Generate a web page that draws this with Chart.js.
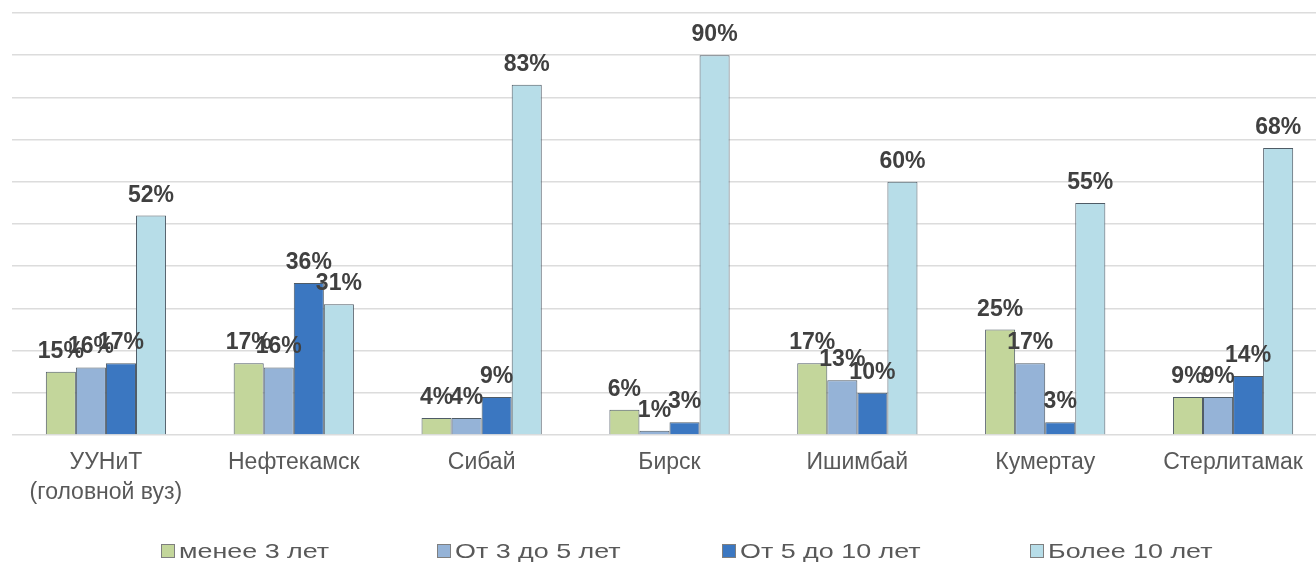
<!DOCTYPE html>
<html lang="ru">
<head>
<meta charset="utf-8">
<title>Стаж работы</title>
<script src="https://cdn.jsdelivr.net/npm/chart.js@4/dist/chart.umd.min.js"></script>
<style>
  html, body { margin: 0; padding: 0; background: #fff; overflow: hidden; }
  #chartCanvas { display: block; }
</style>
</head>
<body>
<canvas id="chartCanvas" width="1330" height="564"></canvas>
<script>
// Категории (подразделения) и доли сотрудников по стажу, %
const categories = [["УУНиТ", "(головной вуз)"], "Нефтекамск", "Сибай", "Бирск", "Ишимбай", "Кумертау", "Стерлитамак"];
const seriesNames = ["менее 3 лет", "От 3 до 5 лет", "От 5 до 10 лет", "Более 10 лет"];
const lessThan3 = [15, 17, 4, 6, 17, 25, 9];
const from3to5 = [16, 16, 4, 1, 13, 17, 9];
const from5to10 = [17, 36, 9, 3, 10, 3, 14];
const over10 = [52, 31, 83, 90, 60, 55, 68];
const yTicks = { min: 0, max: 100, step: 10 };

const colors = ["#c3d69b", "#95b3d7", "#3b77c1", "#b7dde8"];
const seriesData = [lessThan3, from3to5, from5to10, over10];

// подписи значений над столбцами
const valueLabels = {
  id: "valueLabels",
  afterDatasetsDraw(chart) {
    const ctx = chart.ctx;
    ctx.save();
    ctx.font = "bold 23px 'Liberation Sans', Arial, sans-serif";
    ctx.fillStyle = "#404040";
    ctx.textAlign = "center";
    ctx.textBaseline = "alphabetic";
    chart.data.datasets.forEach((ds, i) => {
      chart.getDatasetMeta(i).data.forEach((bar, j) => {
        ctx.fillText(ds.data[j] + "%", bar.x, bar.y - 14);
      });
    });
    ctx.restore();
  }
};

// легенда внизу, текст немного растянут по ширине
const slotLegend = {
  id: "slotLegend",
  afterDraw(chart, args, opts) {
    const ctx = chart.ctx;
    ctx.save();
    ctx.font = "21px 'Liberation Sans', Arial, sans-serif";
    ctx.textBaseline = "middle";
    ctx.textAlign = "left";
    chart.data.datasets.forEach((ds, i) => {
      const x = opts.starts[i];
      const y = opts.y;
      ctx.fillStyle = ds.backgroundColor;
      ctx.fillRect(x, y - 7, 14, 14);
      ctx.strokeStyle = "#7f7f7f";
      ctx.lineWidth = 1;
      ctx.strokeRect(x + 0.5, y - 6.5, 13, 13);
      ctx.save();
      ctx.translate(x + 18, y + 1);
      ctx.scale(opts.stretch, 1);
      ctx.fillStyle = "#595959";
      ctx.fillText(ds.label, 0, 0);
      ctx.restore();
    });
    ctx.restore();
  }
};

const chartInstance = new Chart(document.getElementById("chartCanvas"), {
  type: "bar",
  data: {
    labels: categories,
    datasets: seriesNames.map((name, i) => ({
      label: name,
      data: seriesData[i],
      backgroundColor: colors[i],
      borderColor: "#4f5b66",
      borderWidth: 1,
      categoryPercentage: 0.64,
      barPercentage: 1.0
    }))
  },
  options: {
    responsive: false,
    animation: false,
    devicePixelRatio: 1,
    layout: { padding: { left: 12, right: 3, top: 13, bottom: 59 } },
    plugins: {
      legend: { display: false },
      tooltip: { enabled: false },
      slotLegend: { starts: [161, 437, 722, 1030], y: 551, stretch: 1.28 }
    },
    scales: {
      x: {
        grid: { display: false, drawTicks: false },
        border: { display: false },
        ticks: {
          color: "#595959",
          font: { family: "'Liberation Sans', Arial, sans-serif", size: 23, lineHeight: 1.3 },
          padding: 13,
          maxRotation: 0,
          autoSkip: false
        },
        afterFit(scale) { scale.height = 70; }
      },
      y: {
        min: yTicks.min,
        max: yTicks.max,
        ticks: { display: false, stepSize: yTicks.step },
        grid: { color: "#dcdcdc", lineWidth: 1.6, drawTicks: false },
        border: { display: false },
        afterFit(scale) { scale.width = 0; }
      }
    }
  },
  plugins: [valueLabels, slotLegend]
});
</script>
</body>
</html>
